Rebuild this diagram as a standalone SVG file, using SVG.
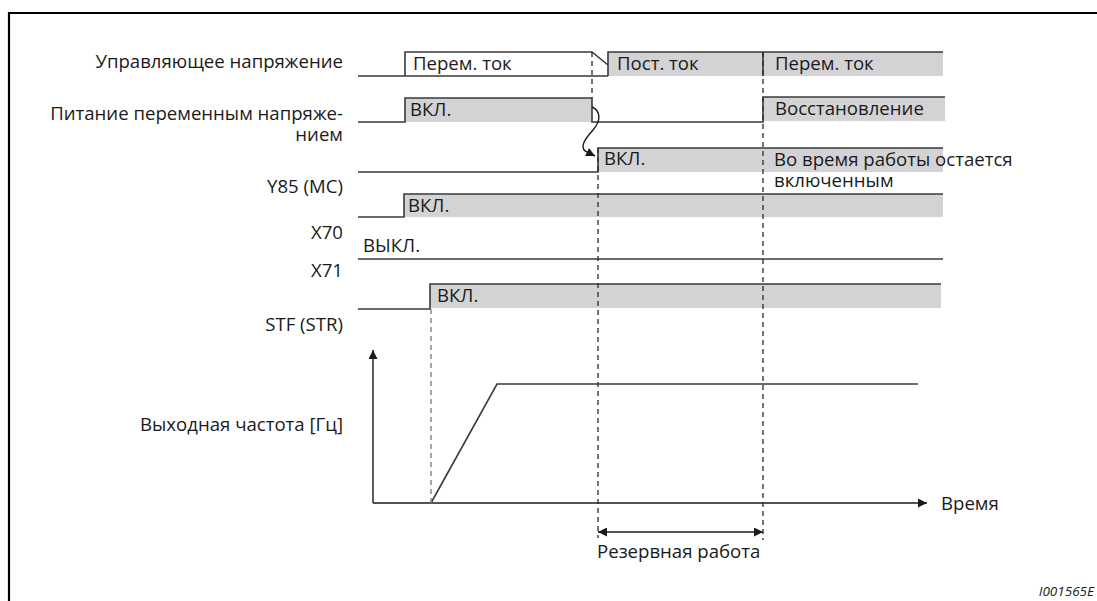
<svg xmlns="http://www.w3.org/2000/svg" width="1097" height="601" viewBox="0 0 1097 601">
<style>
text{font-family:"Open Sans","Liberation Sans",sans-serif;font-size:18.6px;fill:#1a1a1a}
.lbl{text-anchor:end}
.sig{fill:none;stroke:#3a3a3a;stroke-width:1.6}
.fill{fill:#d3d3d5;stroke:none}
.dash{fill:none;stroke:#2a2a2a;stroke-width:1.3;stroke-dasharray:5,4}
.dashg{fill:none;stroke:#888;stroke-width:1.5;stroke-dasharray:5,4}
.ax{fill:none;stroke:#1a1a1a;stroke-width:1.4}
.id{font-size:13.5px;font-style:italic;text-anchor:end}
</style>
<defs>
<marker id="ah" viewBox="0 0 10 10" refX="10" refY="5" markerWidth="9" markerHeight="9" markerUnits="userSpaceOnUse" orient="auto-start-reverse">
<path d="M0,0 L10,5 L0,10 z" fill="#1a1a1a"/>
</marker>
</defs>
<rect width="1097" height="601" fill="#fff"/>
<path d="M9,601 V13 H1097" fill="none" stroke="#000" stroke-width="2.2"/>

<g id="labels">
<text class="lbl" x="343" y="68">Управляющее напряжение</text>
<text class="lbl" x="343" y="120">Питание переменным напряже-<tspan x="343" dy="21">нием</tspan></text>
<text class="lbl" x="343" y="193">Y85 (MC)</text>
<text class="lbl" x="343" y="239">X70</text>
<text class="lbl" x="343" y="277">X71</text>
<text class="lbl" x="343" y="331">STF (STR)</text>
<text class="lbl" x="343" y="431">Выходная частота [Гц]</text>
</g>

<g id="control-voltage">
<rect class="fill" x="608" y="52" width="335" height="24"/>
<path class="sig" d="M358,76 H608 M405,76 V52 H592 L608,65 M608,76 V52 H943 M763,52 V76"/>
<text x="413" y="70">Перем. ток</text>
<text x="617" y="70">Пост. ток</text>
<text x="775" y="70">Перем. ток</text>
</g>

<g id="ac-supply">
<rect class="fill" x="405" y="98" width="187" height="24"/>
<rect class="fill" x="763" y="97" width="182" height="24"/>
<path class="sig" d="M358,122 H405 V98 H592 V122 H763 V97 H945"/>
<text x="410" y="116">ВКЛ.</text>
<text x="775" y="115">Восстановление</text>
</g>

<g id="row3">
<rect class="fill" x="598" y="148" width="345" height="24"/>
<path class="sig" d="M358,172 H598 V148 H943"/>
<text x="604" y="165">ВКЛ.</text>
<text x="774" y="166">Во время работы остается<tspan x="774" dy="21">включенным</tspan></text>
</g>

<g id="y85">
<rect class="fill" x="404" y="194" width="539" height="23"/>
<path class="sig" d="M358,217 H404 V194 H943"/>
<text x="408" y="212">ВКЛ.</text>
</g>

<g id="x70">
<path class="sig" d="M358,259 H943"/>
<text x="363" y="252">ВЫКЛ.</text>
</g>

<g id="stf">
<rect class="fill" x="430" y="284" width="511" height="24"/>
<path class="sig" d="M358,309 H430 V284 H941"/>
<text x="437" y="302">ВКЛ.</text>
</g>

<g id="frequency">
<path class="ax" d="M373,503 V350" marker-end="url(#ah)"/>
<path class="ax" d="M373,503 H927" marker-end="url(#ah)"/>
<path class="sig" d="M431,503 L497,384 H918"/>
<text x="941" y="510">Время</text>
</g>

<g id="connectors">
<path class="dash" d="M592,52 V98"/>
<path class="dash" d="M598,148 V538"/>
<path class="dash" d="M763,52 V540"/>
<path class="dashg" d="M431,309 V503"/>
<path class="ax" d="M592,107 C601,111 601,121 593,130 C585,139 580,146 585,151 L595,156" marker-end="url(#ah)"/>
<path class="ax" d="M598,532 H763" marker-start="url(#ah)" marker-end="url(#ah)"/>
</g>

<text x="597" y="558">Резервная работа</text>
<text class="id" x="1094" y="596">I001565E</text>
</svg>
